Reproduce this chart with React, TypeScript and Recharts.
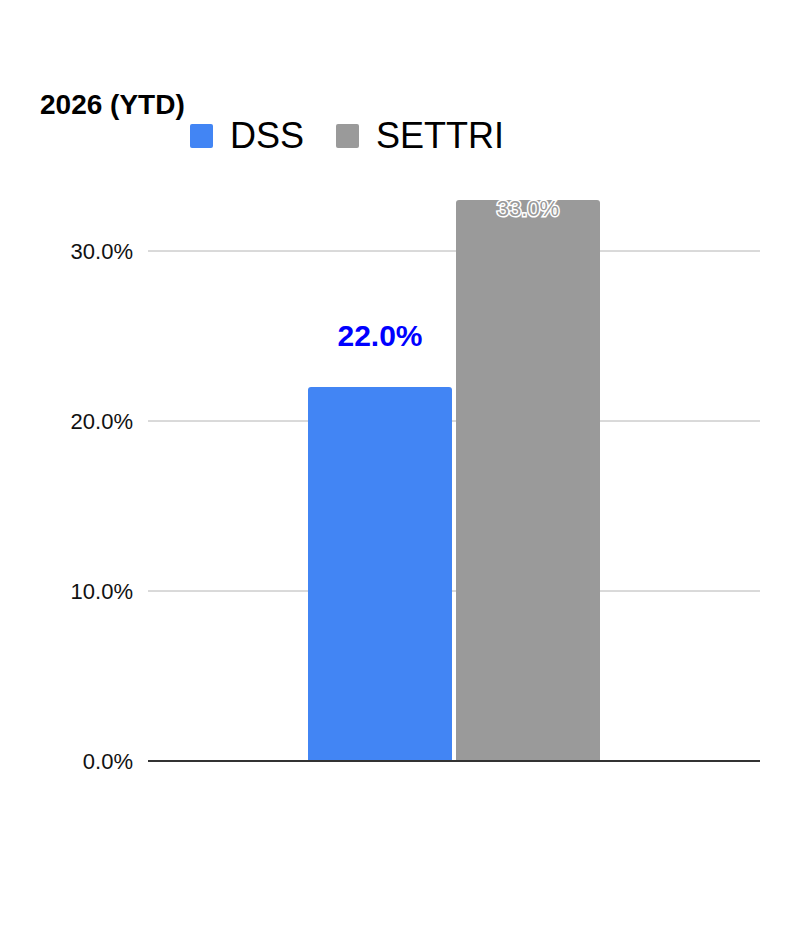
import { Bar, BarChart, CartesianGrid, XAxis, YAxis } from "recharts";

const CATEGORIES = ["2026 (YTD)"];
const SERIES = ["DSS", "SETTRI"];
const DSS_VALUES = [0.22];
const SETTRI_VALUES = [0.33];
const Y_TICKS = [0, 0.1, 0.2, 0.3];
const COLORS = ["#4285f4", "#9a9a9a"];

const FONT = "'Liberation Sans', Arial, sans-serif";

const data = CATEGORIES.map((name, i) => ({
  name,
  DSS: DSS_VALUES[i],
  SETTRI: SETTRI_VALUES[i],
}));

const pct = (v: number) => `${(v * 100).toFixed(1)}%`;

// blue label floats above the DSS bar
function DssLabel(props: any) {
  const { x, y, width, value } = props;
  return (
    <text
      x={x + width / 2}
      y={y - 41}
      textAnchor="middle"
      fill="#0000ff"
      fontSize={30}
      fontWeight="bold"
      fontFamily={FONT}
    >
      {pct(value)}
    </text>
  );
}

// outlined label sitting inside the top of the SETTRI bar
function SettriLabel(props: any) {
  const { x, y, width, value } = props;
  return (
    <text
      x={x + width / 2}
      y={y + 16}
      textAnchor="middle"
      fill="#9a9a9a"
      stroke="#ffffff"
      strokeWidth={3}
      paintOrder="stroke"
      fontSize={22}
      fontFamily={FONT}
    >
      {pct(value)}
    </text>
  );
}

export default function App() {
  return (
    <div style={{ position: "absolute", left: 0, top: 0, width: 802, height: 934, background: "#fff", fontFamily: FONT }}>
      <div
        style={{
          position: "absolute",
          left: 40,
          top: 89,
          fontSize: 28,
          fontWeight: "bold",
          color: "#000",
          lineHeight: "32px",
        }}
      >
        {CATEGORIES[0]}
      </div>

      {/* legend */}
      <div style={{ position: "absolute", left: 190, top: 116, display: "flex", alignItems: "center" }}>
        {SERIES.map((s, i) => (
          <div key={s} style={{ display: "flex", alignItems: "center", marginRight: 32 }}>
            <span
              style={{
                width: 23,
                height: 24,
                borderRadius: 2,
                background: COLORS[i],
                display: "inline-block",
                marginRight: 17,
              }}
            />
            <span style={{ fontSize: 36, lineHeight: "40px", color: "#000" }}>{s}</span>
          </div>
        ))}
      </div>

      <BarChart
        width={802}
        height={934}
        data={data}
        margin={{ top: 166, right: 42, bottom: 172, left: 0 }}
        barSize={144}
        barGap={4}
      >
        <CartesianGrid vertical={false} stroke="#b4b4b4" horizontalValues={Y_TICKS} />
        <XAxis
          dataKey="name"
          tick={false}
          tickLine={false}
          axisLine={{ stroke: "#333333", strokeWidth: 2 }}
          height={1}
        />
        <YAxis
          domain={[0, 0.35]}
          ticks={Y_TICKS}
          tickFormatter={pct}
          axisLine={false}
          tickLine={false}
          width={148}
          tickMargin={9}
          tick={{ fontSize: 22, fill: "#111", fontFamily: FONT }}
        />
        <Bar
          dataKey="DSS"
          fill={COLORS[0]}
          radius={[3, 3, 0, 0]}
          isAnimationActive={false}
          label={<DssLabel />}
        />
        <Bar
          dataKey="SETTRI"
          fill={COLORS[1]}
          radius={[3, 3, 0, 0]}
          isAnimationActive={false}
          label={<SettriLabel />}
        />
      </BarChart>
    </div>
  );
}
